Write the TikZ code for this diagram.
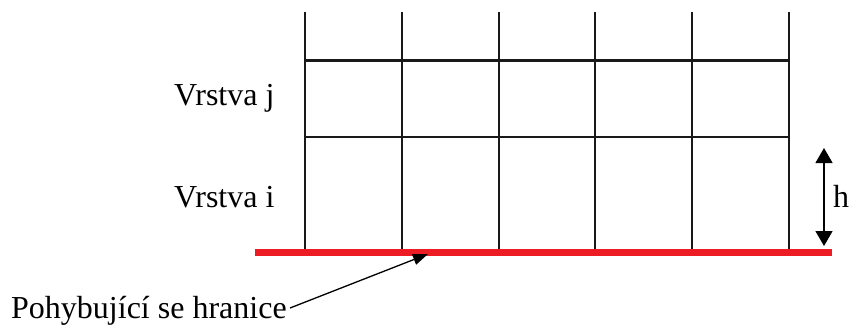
\documentclass[tikz,border=0pt]{standalone}
\usepackage{fontspec}
\setmainfont{Liberation Serif}
\usetikzlibrary{arrows.meta}
\begin{document}
\begin{tikzpicture}[x=1pt,y=-1pt,
  gridline/.style={line width=2.2pt,black!90},
  boundary/.style={line width=6.5pt,color={rgb,255:red,237;green,28;blue,36}},
  lbl/.style={anchor=base west,inner sep=0pt,font=\fontsize{32}{38}\selectfont},
  dimarrow/.style={line width=1.3pt,{Triangle[length=15pt,width=17pt]}-{Triangle[length=15pt,width=17pt]}},
  pointer/.style={line width=1.3pt,-{Triangle[length=15pt,width=11pt]}}]
\useasboundingbox (0,0) rectangle (850,325);
% vertical grid lines
\foreach \x in {305,402,499,595,692,789}
  \draw[gridline] (\x,12) -- (\x,250);
% horizontal grid lines
\draw[gridline] (305,60.5) -- (789,60.5);
\draw[gridline] (305,137) -- (789,137);
% moving boundary
\draw[boundary] (255,252.7) -- (832,252.7);
% labels
\node[lbl] (vj) at (174,105) {Vrstva j};
\node[lbl] (vi) at (174,207) {Vrstva i};
\node[lbl] (h) at (833,207) {h};
\node[lbl] (ph) at (11,318) {Pohybující se hranice};
% h dimension arrow
\coordinate (htop) at (824,148);
\coordinate (hbot) at (824,246);
\draw[dimarrow] (htop) -- (hbot);
% pointer
\coordinate (pstart) at (290,308);
\coordinate (ptip) at (428,254);
\draw[pointer] (pstart) -- (ptip);
\end{tikzpicture}
\end{document}
